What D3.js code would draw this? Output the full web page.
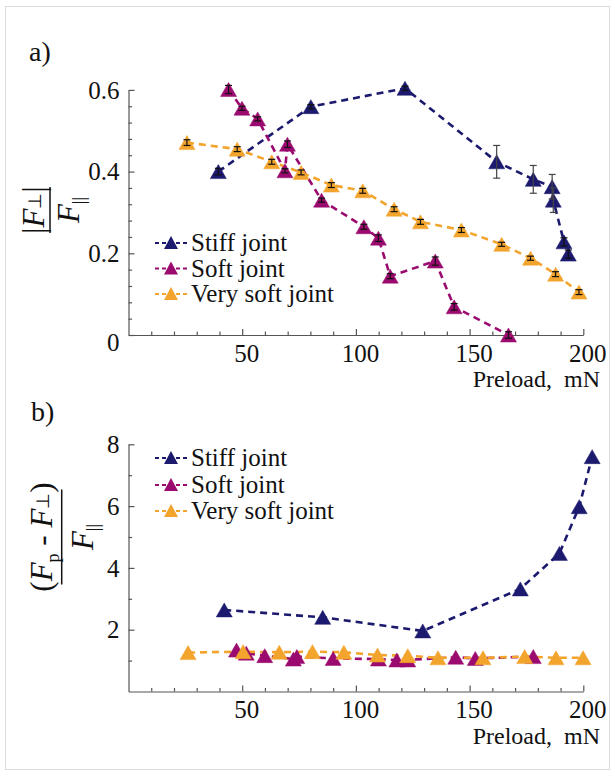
<!DOCTYPE html>
<html>
<head>
<meta charset="utf-8">
<script src="https://cdn.jsdelivr.net/npm/d3@7"></script>
<style>
  body { margin: 0; background: #fff; }
  svg text { font-family: "Liberation Serif", "Times New Roman", serif; }
</style>
</head>
<body>
<script>
// panel a) |F_perp| / F_par vs preload
const stiffAx = [39.5, 80.2, 121.6, 161.9, 178, 186.3, 186.8, 191.5, 193.4];
const stiffAy = [0.400, 0.559, 0.604, 0.424, 0.381, 0.363, 0.330, 0.228, 0.198];
const stiffAe = [0.008, 0.005, 0.005, 0.040, 0.034, 0.030, 0.030, 0.010, 0.010];

const softAx = [44.0, 49.9, 56.8, 68.8, 69.9, 84.9, 103.5, 109.9, 115.1, 134.9, 143.2, 167.1];
const softAy = [0.601, 0.555, 0.529, 0.402, 0.467, 0.330, 0.265, 0.237, 0.144, 0.181, 0.069, 0.0];
const softAe = [0.010, 0.005, 0.005, 0.005, 0.008, 0.005, 0.006, 0.008, 0.006, 0.010, 0.008, 0.008];

const vsoftAx = [25.7, 47.8, 63, 75.9, 89.2, 103, 116.8, 128.4, 146.4, 164.1, 176.8, 187.8, 198.1];
const vsoftAy = [0.471, 0.455, 0.424, 0.398, 0.367, 0.353, 0.308, 0.277, 0.257, 0.222, 0.188, 0.149, 0.105];
const vsoftAe = [0.007, 0.006, 0.006, 0.006, 0.006, 0.006, 0.006, 0.006, 0.006, 0.005, 0.005, 0.006, 0.006];

// panel b) (F_p - F_perp) / F_par vs preload
const stiffBx = [42.1, 85.4, 129.4, 172.3, 189.5, 198.2, 203.9];
const stiffBy = [2.64, 2.40, 1.96, 3.32, 4.47, 5.98, 7.60];

const softBx = [47.5, 51.8, 59.9, 72.5, 74, 90, 109.9, 118, 122.8, 143.9, 152.5, 178];
const softBy = [1.34, 1.24, 1.16, 1.05, 1.13, 1.07, 1.05, 1.02, 1.02, 1.11, 1.07, 1.13];

const vsoftBx = [26.2, 50.4, 66.3, 80.9, 94.7, 109.5, 122.8, 136.1, 155.9, 174.2, 188, 199.9];
const vsoftBy = [1.26, 1.29, 1.27, 1.29, 1.27, 1.18, 1.16, 1.09, 1.09, 1.13, 1.09, 1.09];

const seriesNames = ["Stiff joint", "Soft joint", "Very soft joint"];
const seriesColors = ["#1c1a6e", "#9b0b6f", "#f3a42c"];

const xTicks = [50, 100, 150, 200];
const xMinor = d3.range(10, 200, 10).filter(v => v % 50 !== 0);
const yTicksA = [0, 0.2, 0.4, 0.6];
const yMinorA = [0.04, 0.08, 0.12, 0.16, 0.24, 0.28, 0.32, 0.36, 0.44, 0.48, 0.52, 0.56];
const yTicksB = [2, 4, 6, 8];
const yMinorB = [1, 3, 5, 7];

const width = 615, height = 776;
const serif = '"Liberation Serif", "Times New Roman", serif';

const svg = d3.select("body").append("svg")
    .attr("width", width)
    .attr("height", height)
    .attr("font-family", serif);

// light frame around the figure
svg.append("rect")
    .attr("x", 5.5).attr("y", 6.5)
    .attr("width", 604).attr("height", 763)
    .attr("fill", "none")
    .attr("stroke", "#dcdcdc");

const x = d3.scaleLinear().domain([0, 200]).range([128.5, 583.3]);
const yA = d3.scaleLinear().domain([0, 0.6]).range([335, 89.9]);
const yB = d3.scaleLinear().domain([0, 8]).range([691.5, 444.3]);

function tri(w, h) {
    return `M0,${-h / 2}L${w / 2},${h / 2}L${-w / 2},${h / 2}Z`;
}

function drawAxes(y, yTicks, yMinor, yFmt) {
    const g = svg.append("g");
    const y0 = y.range()[0];

    // x minor + major
    g.append("g")
        .attr("transform", `translate(0,${y0})`)
        .call(d3.axisBottom(x).tickValues(xMinor).tickSize(-3.5).tickSizeOuter(0).tickFormat(""))
        .call(s => s.select(".domain").remove());
    const xa = g.append("g")
        .attr("transform", `translate(0,${y0})`)
        .call(d3.axisBottom(x).tickValues(xTicks).tickSize(-6).tickSizeOuter(0).tickPadding(9));
    xa.selectAll("text").attr("font-size", 25).attr("dx", 4).attr("fill", "#111");

    // y minor + major
    g.append("g")
        .attr("transform", `translate(${x(0)},0)`)
        .call(d3.axisLeft(y).tickValues(yMinor).tickSize(-3.5).tickSizeOuter(0).tickFormat(""))
        .call(s => s.select(".domain").remove());
    const ya = g.append("g")
        .attr("transform", `translate(${x(0)},0)`)
        .call(d3.axisLeft(y).tickValues(yTicks).tickSize(-6).tickSizeOuter(0).tickPadding(9).tickFormat(yFmt));
    ya.selectAll("text").attr("font-size", 25).attr("fill", "#111")
        .attr("dy", d => d === 0 ? "0.62em" : "0.33em");

    g.selectAll("g").attr("font-family", serif);
    g.selectAll(".domain, .tick line").attr("stroke", "#555").attr("stroke-width", 1.2);

    g.append("text")
        .attr("x", 600).attr("y", y0 + 52)
        .attr("text-anchor", "end")
        .attr("font-size", 24)
        .attr("fill", "#111")
        .attr("xml:space", "preserve")
        .text("Preload,  mN");
}

function drawSeries(y, xs, ys, errs, color) {
    const pts = xs.map((v, i) => ({ x: v, y: ys[i], e: errs ? errs[i] : 0 }));
    svg.append("path")
        .datum(pts)
        .attr("fill", "none")
        .attr("stroke", color)
        .attr("stroke-width", 2.6)
        .attr("stroke-dasharray", "7,5")
        .attr("d", d3.line().x(d => x(d.x)).y(d => y(d.y)));
    return pts;
}

function drawMarkers(y, pts, color, withErr) {
    const g = svg.append("g");
    g.selectAll("path")
        .data(pts)
        .join("path")
        .attr("d", tri(16, 14))
        .attr("transform", d => `translate(${x(d.x)},${y(d.y)})`)
        .attr("fill", color)
        .attr("stroke", color)
        .attr("stroke-opacity", 0.5)
        .attr("stroke-width", 1);
    if (!withErr) return;
    const eb = g.selectAll("g.err")
        .data(pts)
        .join("g")
        .attr("class", "err")
        .attr("stroke", d => d.e > 0.02 ? "#444" : "#111")
        .attr("stroke-width", 1.2);
    eb.append("line")
        .attr("x1", d => x(d.x)).attr("x2", d => x(d.x))
        .attr("y1", d => y(d.y - d.e)).attr("y2", d => y(d.y + d.e));
    eb.append("line")
        .attr("x1", d => x(d.x) - 3.5).attr("x2", d => x(d.x) + 3.5)
        .attr("y1", d => y(d.y - d.e)).attr("y2", d => y(d.y - d.e));
    eb.append("line")
        .attr("x1", d => x(d.x) - 3.5).attr("x2", d => x(d.x) + 3.5)
        .attr("y1", d => y(d.y + d.e)).attr("y2", d => y(d.y + d.e));
}

function drawLegend(rows) {
    const lg = svg.append("g");
    seriesNames.forEach((name, i) => {
        const cy = rows[i];
        lg.append("line")
            .attr("x1", 155).attr("x2", 188)
            .attr("y1", cy).attr("y2", cy)
            .attr("stroke", seriesColors[i])
            .attr("stroke-width", 2)
            .attr("stroke-dasharray", "4,3");
        lg.append("path")
            .attr("d", tri(14, 13))
            .attr("transform", `translate(171,${cy - 0.5})`)
            .attr("fill", seriesColors[i]);
        lg.append("text")
            .attr("x", 191).attr("y", cy + 8)
            .attr("font-size", 25)
            .attr("fill", "#111")
            .text(name);
    });
}

/* ------- PANEL A -------*/
drawAxes(yA, yTicksA, yMinorA, d => d === 0 ? "0" : d3.format(".1f")(d));
const pa = [
    drawSeries(yA, stiffAx, stiffAy, stiffAe, seriesColors[0]),
    drawSeries(yA, softAx, softAy, softAe, seriesColors[1]),
    drawSeries(yA, vsoftAx, vsoftAy, vsoftAe, seriesColors[2])
];
pa.forEach((pts, i) => drawMarkers(yA, pts, seriesColors[i], true));
drawLegend([243, 268.5, 294]);

/* ------- PANEL B -------*/
drawAxes(yB, yTicksB, yMinorB, d3.format("d"));
const pb = [
    drawSeries(yB, stiffBx, stiffBy, null, seriesColors[0]),
    drawSeries(yB, softBx, softBy, null, seriesColors[1]),
    drawSeries(yB, vsoftBx, vsoftBy, null, seriesColors[2])
];
pb.forEach((pts, i) => drawMarkers(yB, pts, seriesColors[i], false));
drawLegend([458, 485, 511]);

/* ------- PANEL LETTERS -------*/
svg.append("text").attr("x", 29).attr("y", 61).attr("font-size", 28).attr("fill", "#111").text("a)");
svg.append("text").attr("x", 31).attr("y", 421).attr("font-size", 28).attr("fill", "#111").text("b)");

/* ------- Y TITLES (rotated fractions) -------*/
function fracLabel(cx, cy, barLen, numY, denY, numParts) {
    const g = svg.append("g")
        .attr("transform", `translate(${cx},${cy}) rotate(-90)`)
        .attr("fill", "#111");
    g.append("line")
        .attr("x1", -barLen / 2).attr("x2", barLen / 2)
        .attr("stroke", "#111").attr("stroke-width", 1.5);
    const num = g.append("text").attr("y", numY).attr("text-anchor", "middle").attr("font-size", 31);
    numParts(num);
    const den = g.append("text").attr("y", denY).attr("text-anchor", "middle").attr("font-size", 31);
    den.append("tspan").attr("font-style", "italic").text("F");
    den.append("tspan").attr("font-size", 18).attr("dy", 6).text("||");
}

fracLabel(50, 210, 46, -6, 29, t => {
    t.append("tspan").text("|");
    t.append("tspan").attr("font-style", "italic").text("F");
    t.append("tspan").attr("font-size", 18).attr("dy", -3).text("⊥");
    t.append("tspan").attr("dy", 3).text("|");
});

fracLabel(61.7, 537, 95, -10, 31, t => {
    t.append("tspan").text("(");
    t.append("tspan").attr("font-style", "italic").text("F");
    t.append("tspan").attr("font-size", 18).attr("dy", 7).text("p");
    t.append("tspan").attr("dy", -7).attr("xml:space", "preserve").text(" - ");
    t.append("tspan").attr("font-style", "italic").text("F");
    t.append("tspan").attr("font-size", 18).attr("dy", -3).text("⊥");
    t.append("tspan").attr("dy", 3).text(")");
});
</script>
</body>
</html>
